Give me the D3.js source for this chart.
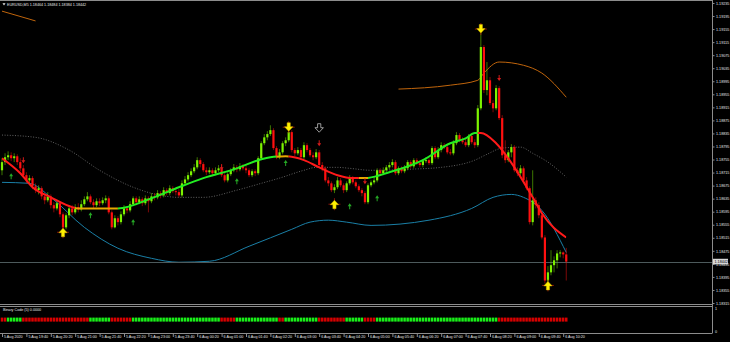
<!DOCTYPE html>
<html>
<head>
<meta charset="utf-8">
<script src="https://cdn.jsdelivr.net/npm/d3@7"></script>
<style>
  body { margin: 0; background: #000; }
  svg { display: block; }
  text { font-family: "Liberation Sans", Arial, sans-serif; fill: #e6e6e6; }
</style>
</head>
<body>
<div id="chart"></div>
<script>
// EURUSD M5, 5 Aug 19:00 -> 6 Aug 10:25
var barOpen = [1.18722,1.18747,1.18762,1.18768,1.18759,1.18765,1.18747,1.18728,1.18707,1.18691,1.18698,1.18673,1.18661,1.18667,1.18642,1.18630,1.18642,1.18615,1.18605,1.18621,
  1.18587,1.18547,1.18584,1.18605,1.18593,1.18609,1.18602,1.18618,1.18633,1.18642,1.18624,1.18615,1.18627,1.18621,1.18630,1.18636,1.18593,1.18547,1.18575,1.18563,
  1.18587,1.18605,1.18599,1.18618,1.18636,1.18624,1.18633,1.18621,1.18636,1.18627,1.18642,1.18639,1.18652,1.18645,1.18661,1.18652,1.18667,1.18658,1.18655,1.18645,
  1.18682,1.18694,1.18707,1.18719,1.18731,1.18753,1.18741,1.18722,1.18716,1.18722,1.18713,1.18722,1.18728,1.18707,1.18691,1.18710,1.18722,1.18731,1.18725,1.18734,
  1.18728,1.18722,1.18707,1.18719,1.18713,1.18759,1.18805,1.18823,1.18833,1.18845,1.18790,1.18762,1.18777,1.18805,1.18814,1.18839,1.18784,1.18774,1.18784,1.18762,
  1.18799,1.18784,1.18768,1.18762,1.18777,1.18738,1.18728,1.18691,1.18682,1.18661,1.18670,1.18691,1.18676,1.18661,1.18682,1.18698,1.18685,1.18673,1.18661,1.18652,
  1.18624,1.18676,1.18685,1.18691,1.18722,1.18713,1.18722,1.18731,1.18738,1.18747,1.18713,1.18728,1.18719,1.18728,1.18747,1.18734,1.18753,1.18744,1.18738,1.18750,
  1.18753,1.18744,1.18790,1.18762,1.18784,1.18799,1.18793,1.18777,1.18774,1.18805,1.18830,1.18814,1.18808,1.18799,1.18827,1.18808,1.18799,1.18912,1.19100,1.18968,
  1.18998,1.18928,1.18912,1.18974,1.18882,1.18768,1.18753,1.18777,1.18793,1.18722,1.18713,1.18728,1.18691,1.18667,1.18563,1.18630,1.18615,1.18584,1.18516,1.18384,
  1.18409,1.18431,1.18446,1.18467,1.18470,1.18464];
var barHigh = [1.18759,1.18774,1.18780,1.18777,1.18774,1.18771,1.18759,1.18738,1.18716,1.18707,1.18704,1.18682,1.18676,1.18673,1.18652,1.18655,1.18648,1.18624,1.18630,1.18627,
  1.18593,1.18590,1.18615,1.18615,1.18618,1.18621,1.18630,1.18642,1.18655,1.18648,1.18633,1.18636,1.18636,1.18639,1.18645,1.18642,1.18599,1.18584,1.18581,1.18596,
  1.18615,1.18612,1.18627,1.18642,1.18642,1.18642,1.18639,1.18645,1.18642,1.18652,1.18652,1.18661,1.18658,1.18670,1.18667,1.18676,1.18673,1.18667,1.18664,1.18691,
  1.18704,1.18716,1.18728,1.18741,1.18762,1.18759,1.18747,1.18731,1.18731,1.18728,1.18731,1.18738,1.18741,1.18713,1.18716,1.18728,1.18741,1.18738,1.18744,1.18741,
  1.18738,1.18728,1.18725,1.18725,1.18765,1.18811,1.18833,1.18842,1.18860,1.18851,1.18796,1.18787,1.18811,1.18823,1.18848,1.18845,1.18790,1.18793,1.18790,1.18808,
  1.18805,1.18790,1.18777,1.18787,1.18784,1.18747,1.18734,1.18701,1.18688,1.18679,1.18701,1.18698,1.18682,1.18688,1.18707,1.18704,1.18691,1.18679,1.18667,1.18658,
  1.18682,1.18691,1.18704,1.18728,1.18728,1.18731,1.18738,1.18747,1.18756,1.18753,1.18734,1.18734,1.18738,1.18753,1.18753,1.18759,1.18759,1.18750,1.18756,1.18762,
  1.18759,1.18796,1.18796,1.18793,1.18808,1.18805,1.18799,1.18787,1.18814,1.18839,1.18836,1.18823,1.18820,1.18833,1.18836,1.18817,1.18922,1.19143,1.19106,1.19054,
  1.19008,1.18937,1.18983,1.18980,1.18891,1.18814,1.18784,1.18802,1.18799,1.18731,1.18738,1.18734,1.18701,1.18673,1.18722,1.18639,1.18624,1.18593,1.18523,1.18428,
  1.18477,1.18458,1.18477,1.18477,1.18473,1.18484];
var barLow = [1.18707,1.18738,1.18753,1.18750,1.18747,1.18738,1.18719,1.18698,1.18682,1.18679,1.18664,1.18652,1.18648,1.18633,1.18618,1.18624,1.18605,1.18593,1.18599,1.18578,
  1.18538,1.18541,1.18575,1.18584,1.18587,1.18593,1.18596,1.18612,1.18627,1.18618,1.18605,1.18609,1.18612,1.18615,1.18621,1.18587,1.18541,1.18544,1.18553,1.18556,
  1.18581,1.18590,1.18593,1.18612,1.18615,1.18618,1.18612,1.18615,1.18593,1.18621,1.18630,1.18633,1.18636,1.18639,1.18645,1.18645,1.18652,1.18645,1.18639,1.18639,
  1.18676,1.18688,1.18701,1.18713,1.18725,1.18731,1.18716,1.18707,1.18710,1.18704,1.18707,1.18716,1.18701,1.18685,1.18685,1.18704,1.18716,1.18716,1.18719,1.18722,
  1.18713,1.18701,1.18701,1.18704,1.18707,1.18753,1.18799,1.18814,1.18827,1.18784,1.18756,1.18756,1.18771,1.18796,1.18808,1.18777,1.18765,1.18768,1.18756,1.18756,
  1.18777,1.18762,1.18753,1.18756,1.18731,1.18719,1.18685,1.18673,1.18655,1.18652,1.18664,1.18670,1.18652,1.18655,1.18676,1.18679,1.18667,1.18655,1.18642,1.18618,
  1.18618,1.18670,1.18679,1.18685,1.18707,1.18707,1.18716,1.18725,1.18731,1.18707,1.18707,1.18713,1.18713,1.18722,1.18728,1.18728,1.18738,1.18731,1.18731,1.18744,
  1.18738,1.18738,1.18756,1.18756,1.18777,1.18787,1.18771,1.18768,1.18768,1.18799,1.18808,1.18802,1.18793,1.18793,1.18802,1.18790,1.18793,1.18906,1.18959,1.18952,
  1.18922,1.18900,1.18906,1.18876,1.18759,1.18744,1.18747,1.18762,1.18716,1.18704,1.18704,1.18685,1.18661,1.18556,1.18553,1.18605,1.18575,1.18510,1.18375,1.18372,
  1.18400,1.18409,1.18421,1.18455,1.18452,1.18384];
var barClose = [1.18747,1.18762,1.18768,1.18759,1.18765,1.18747,1.18728,1.18707,1.18691,1.18698,1.18673,1.18661,1.18667,1.18642,1.18630,1.18642,1.18615,1.18605,1.18621,1.18587,
  1.18547,1.18584,1.18605,1.18593,1.18609,1.18602,1.18618,1.18633,1.18642,1.18624,1.18615,1.18627,1.18621,1.18630,1.18636,1.18593,1.18547,1.18575,1.18563,1.18587,
  1.18605,1.18599,1.18618,1.18636,1.18624,1.18633,1.18621,1.18636,1.18627,1.18642,1.18639,1.18652,1.18645,1.18661,1.18652,1.18667,1.18658,1.18655,1.18645,1.18682,
  1.18694,1.18707,1.18719,1.18731,1.18753,1.18741,1.18722,1.18716,1.18722,1.18713,1.18722,1.18728,1.18707,1.18691,1.18710,1.18722,1.18731,1.18725,1.18734,1.18728,
  1.18722,1.18707,1.18719,1.18713,1.18759,1.18805,1.18823,1.18833,1.18845,1.18790,1.18762,1.18777,1.18805,1.18814,1.18839,1.18784,1.18774,1.18784,1.18762,1.18799,
  1.18784,1.18768,1.18762,1.18777,1.18738,1.18728,1.18691,1.18682,1.18661,1.18670,1.18691,1.18676,1.18661,1.18682,1.18698,1.18685,1.18673,1.18661,1.18652,1.18624,
  1.18676,1.18685,1.18691,1.18722,1.18713,1.18722,1.18731,1.18738,1.18747,1.18713,1.18728,1.18719,1.18728,1.18747,1.18734,1.18753,1.18744,1.18738,1.18750,1.18753,
  1.18744,1.18790,1.18762,1.18784,1.18799,1.18793,1.18777,1.18774,1.18805,1.18830,1.18814,1.18808,1.18799,1.18827,1.18808,1.18799,1.18912,1.19100,1.18968,1.18998,
  1.18928,1.18912,1.18974,1.18882,1.18768,1.18753,1.18777,1.18793,1.18722,1.18713,1.18728,1.18691,1.18667,1.18563,1.18630,1.18615,1.18584,1.18516,1.18384,1.18409,
  1.18431,1.18446,1.18467,1.18470,1.18464,1.18442];

var timeLabels = ["5 Aug 2020","5 Aug 19:40","5 Aug 20:20","5 Aug 21:00","5 Aug 21:40","5 Aug 22:20","5 Aug 23:00","5 Aug 23:40",
  "6 Aug 00:20","6 Aug 01:00","6 Aug 01:40","6 Aug 02:20","6 Aug 03:00","6 Aug 03:40","6 Aug 04:20","6 Aug 05:00",
  "6 Aug 05:40","6 Aug 06:20","6 Aug 07:00","6 Aug 07:40","6 Aug 08:20","6 Aug 09:00","6 Aug 09:40","6 Aug 10:20"];
var barsPerLabel = 8;

var priceTicks = [1.18315,1.18355,1.18395,1.18435,1.18475,1.18515,1.18555,1.18595,1.18635,1.18675,1.18715,1.18755,
  1.18795,1.18835,1.18875,1.18915,1.18955,1.18995,1.19035,1.19075,1.19115,1.19155,1.19195,1.19235];

// trend line [bar, price] and its colour state
var maPoints = [[0,1.18759],[6,1.18713],[10,1.18670],[16,1.18639],[23,1.18609],[25,1.18605],[38,1.18605],[49,1.18636],
  [58,1.18670],[66,1.18698],[77,1.18728],[85,1.18756],[88,1.18762],[93,1.18765],[99,1.18753],[104,1.18731],[110,1.18707],
  [115,1.18698],[119,1.18698],[127,1.18716],[138,1.18753],[147,1.18805],[152,1.18820],[155,1.18836],[157,1.18836],
  [162,1.18805],[168,1.18731],[174,1.18639],[177,1.18590],[185,1.18516]];
var maStates = [["down",0,24],["flat",24,38],["up",38,90],["flat",90,94],["down",94,117],["flat",117,120],["up",120,156],["down",156,185]];

var midBand = [[0,1.18830],[11,1.18823],[22,1.18784],[32,1.18722],[43,1.18670],[52,1.18645],[58,1.18639],[66,1.18639],
  [77,1.18661],[85,1.18682],[91,1.18698],[99,1.18722],[103,1.18731],[110,1.18731],[114,1.18728],[121,1.18722],[133,1.18725],
  [144,1.18731],[155,1.18753],[159,1.18771],[164,1.18790],[170,1.18793],[174,1.18774],[179,1.18747],[185,1.18701]];
var lowBand = [[0,1.18685],[9,1.18682],[16,1.18639],[27,1.18547],[38,1.18483],[49,1.18452],[58,1.18440],[68,1.18443],
  [81,1.18489],[95,1.18541],[101,1.18563],[107,1.18569],[113,1.18563],[121,1.18553],[140,1.18569],[154,1.18605],
  [161,1.18639],[167,1.18648],[171,1.18639],[177,1.18599],[185,1.18470]];
var upBandLeft = [[0,1.19210],[11,1.19180]];
var upBandRight = [[130,1.18971],[147,1.18983],[156,1.18998],[158,1.19020],[163,1.19054],[171,1.19044],[177,1.19020],[185,1.18946]];

// signal arrows [bar, price]
var bigUp = [[20,1.18532],[109,1.18618],[179,1.18369]];
var bigDown = [[94,1.18854],[157,1.19155]];
var smallUp = [[3,1.18704],[29,1.18584],[43,1.18563],[77,1.18688],[93,1.18744],[114,1.18612],[123,1.18636]];
var smallDown = [[7,1.18753],[72,1.18731],[104,1.18805],[119,1.18688],[163,1.19005]];
var hollowDown = [[104,1.18851]];

// Binary Code (5): runs of [signal, bars]
var binaryRuns = [[0,2],[1,5],[0,22],[1,7],[0,7],[1,29],[0,5],[1,14],[0,2],[1,11],[0,9],[1,6],[0,4],[1,40],[0,23]];

var width = 730, height = 342;
var plotRight = 712, mainTop = 0.5, mainBottom = 304, subTop = 306, subBottom = 333;
var barStep = 3.05;
var nBars = barClose.length;
var lastPrice = barClose[nBars - 1];

var stateColors = { down: "#ff1a1a", flat: "#e8a800", up: "#22ee22" };
var bullColor = "#7cf200", bearColor = "#ff1010";

var x = d3.scaleLinear().domain([0, nBars - 1]).range([2, 2 + (nBars - 1) * barStep]);
var y = d3.scaleLinear().domain([priceTicks[0], priceTicks[priceTicks.length - 1]]).range([303, 3]);

var svg = d3.select("#chart").append("svg")
  .attr("width", width)
  .attr("height", height)
  .style("background", "#000");

var defs = svg.append("defs");
defs.append("clipPath").attr("id", "mainClip")
  .append("rect").attr("x", 0).attr("y", mainTop).attr("width", plotRight).attr("height", mainBottom - mainTop);

var main = svg.append("g").attr("clip-path", "url(#mainClip)");

function bandLine() {
  return d3.line()
    .x(function(d) { return x(d[0]); })
    .y(function(d) { return y(d[1]); })
    .curve(d3.curveMonotoneX);
}

// bands
main.append("path").datum(midBand)
  .attr("d", bandLine())
  .attr("fill", "none").attr("stroke", "#7a7a7a").attr("stroke-width", 0.8)
  .attr("stroke-dasharray", "1,1.6");
main.append("path").datum(lowBand)
  .attr("d", bandLine())
  .attr("fill", "none").attr("stroke", "#1a7fa6").attr("stroke-width", 1);
[upBandLeft, upBandRight].forEach(function(seg) {
  main.append("path").datum(seg)
    .attr("d", bandLine())
    .attr("fill", "none").attr("stroke", "#c0650c").attr("stroke-width", 1);
});

// current price line
main.append("line")
  .attr("x1", 0).attr("x2", plotRight)
  .attr("y1", Math.round(y(lastPrice)) + 0.5).attr("y2", Math.round(y(lastPrice)) + 0.5)
  .attr("stroke", "#4d5a5c").attr("stroke-width", 1);

// candles
var candles = main.selectAll("g.candle")
  .data(d3.range(nBars))
  .enter().append("g").attr("class", "candle");

candles.append("line")
  .attr("x1", function(i) { return x(i); })
  .attr("x2", function(i) { return x(i); })
  .attr("y1", function(i) { return y(barHigh[i]); })
  .attr("y2", function(i) { return y(barLow[i]); })
  .attr("stroke", function(i) { return barClose[i] >= barOpen[i] ? bullColor : bearColor; })
  .attr("stroke-opacity", 0.55)
  .attr("stroke-width", 0.9);

candles.append("rect")
  .attr("x", function(i) { return x(i) - 1.1; })
  .attr("width", 2.2)
  .attr("y", function(i) { return y(Math.max(barOpen[i], barClose[i])); })
  .attr("height", function(i) { return Math.max(1, Math.abs(y(barOpen[i]) - y(barClose[i]))); })
  .attr("fill", function(i) { return barClose[i] >= barOpen[i] ? bullColor : bearColor; });

// trend line, coloured by state
var maLine = bandLine();
maStates.forEach(function(s, k) {
  var id = "maClip" + k;
  defs.append("clipPath").attr("id", id)
    .append("rect")
    .attr("x", x(s[1])).attr("y", 0)
    .attr("width", x(s[2]) - x(s[1])).attr("height", mainBottom);
  main.append("path").datum(maPoints)
    .attr("d", maLine)
    .attr("clip-path", "url(#" + id + ")")
    .attr("fill", "none")
    .attr("stroke", stateColors[s[0]])
    .attr("stroke-width", 2);
});

// arrows
function drawArrows(data, pathStr, fill, stroke, sw) {
  main.selectAll(null).data(data).enter().append("path")
    .attr("transform", function(d) { return "translate(" + x(d[0]) + "," + y(d[1]) + ")"; })
    .attr("d", pathStr)
    .attr("fill", fill)
    .attr("stroke", stroke)
    .attr("stroke-width", sw);
}
var bigDownPath = "M-1.6,-4.5 L1.6,-4.5 L1.6,-0.5 L4.2,-0.5 L0,4 L-4.2,-0.5 L-1.6,-0.5 Z";
var bigUpPath = "M-1.6,4.5 L1.6,4.5 L1.6,0.5 L4.2,0.5 L0,-4 L-4.2,0.5 L-1.6,0.5 Z";
var smallUpPath = "M-0.5,3 L0.5,3 L0.5,0 L2,0 L0,-3 L-2,0 L-0.5,0 Z";
var smallDownPath = "M-0.5,-3 L0.5,-3 L0.5,0 L2,0 L0,3 L-2,0 L-0.5,0 Z";

// red glow behind yellow signals
main.selectAll(null).data(bigUp.concat(bigDown)).enter().append("path")
  .attr("transform", function(d) { return "translate(" + x(d[0]) + "," + y(d[1]) + ")"; })
  .attr("d", "M-6,0 L6,0 M0,-6 L0,6")
  .attr("stroke", "#d02010").attr("stroke-width", 0.8).attr("opacity", 0.8);
drawArrows(bigUp, bigUpPath, "#fff200", "#d0b000", 0.5);
drawArrows(bigDown, bigDownPath, "#fff200", "#d0b000", 0.5);
drawArrows(smallUp, smallUpPath, "#25a825", "none", 0);
drawArrows(smallDown, smallDownPath, "#d41a1a", "none", 0);
drawArrows(hollowDown, bigDownPath, "none", "#d8d8d8", 0.7);

// title
svg.append("path").attr("d", "M2.5,3.3 L5.5,3.3 L4,5.6 Z").attr("fill", "#e6e6e6");
var f5 = d3.format(".5f");
svg.append("text")
  .attr("x", 7).attr("y", 6.3)
  .attr("font-size", 3.7)
  .text("EURUSD,M5  " + [barOpen[nBars - 1], barHigh[nBars - 1], barLow[nBars - 1], lastPrice].map(f5).join(" "));

// frames
var frame = svg.append("g").attr("stroke", "#8c8c8c").attr("stroke-width", 1).attr("fill", "none");
frame.append("line").attr("x1", 0).attr("x2", plotRight).attr("y1", 0.5).attr("y2", 0.5);
frame.append("line").attr("x1", 0).attr("x2", plotRight).attr("y1", mainBottom + 0.5).attr("y2", mainBottom + 0.5);
frame.append("line").attr("x1", 0).attr("x2", plotRight).attr("y1", subTop + 0.5).attr("y2", subTop + 0.5);
frame.append("line").attr("x1", 0).attr("x2", plotRight).attr("y1", subBottom + 0.5).attr("y2", subBottom + 0.5);
frame.append("line").attr("x1", plotRight + 0.5).attr("x2", plotRight + 0.5).attr("y1", 0).attr("y2", subBottom + 0.5);

// price axis
var priceAxis = svg.append("g")
  .attr("transform", "translate(" + (plotRight + 0.5) + ",0)")
  .call(d3.axisRight(y).tickValues(priceTicks).tickFormat(f5).tickSize(2).tickPadding(1.5));
priceAxis.select(".domain").remove();
priceAxis.selectAll("line").attr("stroke", "#8c8c8c");
priceAxis.selectAll("text").attr("font-size", 3.7).attr("fill", "#e6e6e6")
  .attr("font-family", "Liberation Sans, Arial, sans-serif");

// current price box
var py = y(lastPrice);
svg.append("rect").attr("x", plotRight + 1).attr("y", py - 2.8).attr("width", 15).attr("height", 5.6)
  .attr("fill", "#d8d8d8");
svg.append("text").attr("x", plotRight + 2.5).attr("y", py + 1.4)
  .attr("font-size", 3.7).style("fill", "#000")
  .text(f5(lastPrice));

// sub window: Binary Code
svg.append("text").attr("x", 3).attr("y", 311.2).attr("font-size", 3.7)
  .text("Binary Code (5) 0.0000");
var binary = [];
binaryRuns.forEach(function(r) {
  for (var k = 0; k < r[1]; k++) binary.push(r[0]);
});
svg.append("g").selectAll("rect")
  .data(binary)
  .enter().append("rect")
  .attr("x", function(d, i) { return x(i) - 1.25; })
  .attr("y", 317.6)
  .attr("width", 2.5)
  .attr("height", 4)
  .attr("fill", function(d) { return d ? "#19f019" : "#d80000"; });

svg.append("text").attr("x", plotRight + 3).attr("y", 310.4).attr("font-size", 3.7).text("1");
svg.append("text").attr("x", plotRight + 3).attr("y", 333).attr("font-size", 3.7).text("0");

// time axis
var timeTicks = timeLabels.map(function(t, k) { return k * barsPerLabel; });
var timeAxis = svg.append("g")
  .attr("transform", "translate(0," + (subBottom + 1) + ")")
  .call(d3.axisBottom(x).tickValues(timeTicks)
    .tickFormat(function(d, k) { return timeLabels[k]; })
    .tickSize(3));
timeAxis.select(".domain").remove();
timeAxis.selectAll("line").attr("stroke", "#8c8c8c");
timeAxis.selectAll("text")
  .attr("font-size", 3.7).attr("fill", "#e6e6e6")
  .attr("text-anchor", "start").attr("dx", 1.5).attr("y", 1.5).attr("dy", "0.71em")
  .attr("font-family", "Liberation Sans, Arial, sans-serif");
</script>
</body>
</html>
